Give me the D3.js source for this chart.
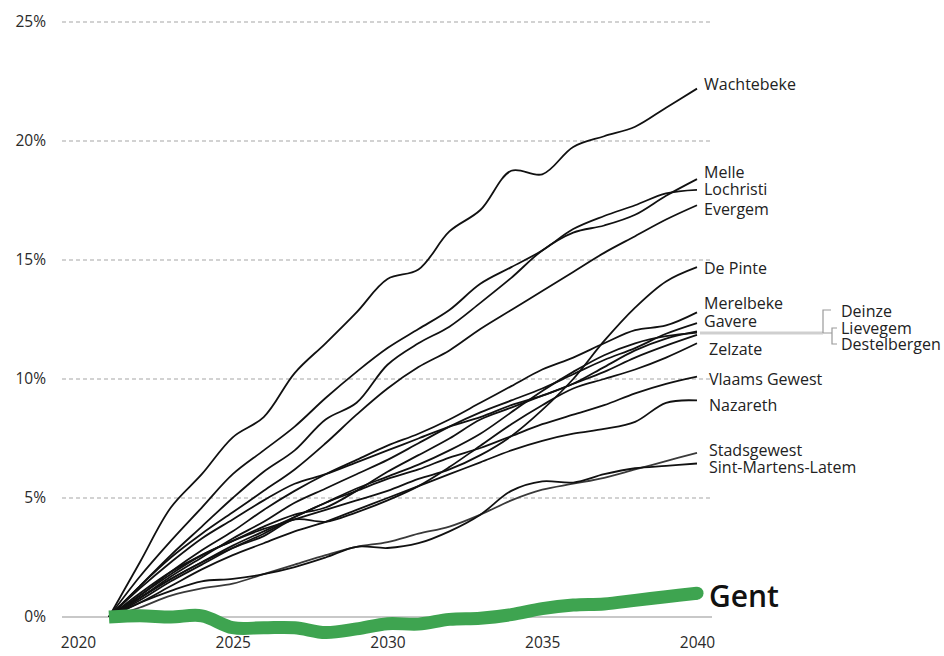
<!DOCTYPE html>
<html>
<head>
<meta charset="utf-8">
<script src="https://cdn.jsdelivr.net/npm/d3@7"></script>
<style>
  html, body { margin: 0; padding: 0; background: #fff; }
  svg { display: block; font-family: "Open Sans", "Noto Sans", sans-serif; }
</style>
</head>
<body>
<svg id="chart" width="944" height="656"></svg>
<script>
// Years of the projection (growth relative to 2021, in %)
const years = [2021, 2022, 2023, 2024, 2025, 2026, 2027, 2028, 2029, 2030,
               2031, 2032, 2033, 2034, 2035, 2036, 2037, 2038, 2039, 2040];

const xTicks = [2020, 2025, 2030, 2035, 2040];
const yTicks = [0, 5, 10, 15, 20, 25];

const wachtebeke       = [0, 2.3, 4.6, 6.0, 7.55, 8.4, 10.25, 11.5, 12.8, 14.2, 14.6, 16.2, 17.1, 18.75, 18.6, 19.75, 20.2, 20.6, 21.4, 22.2];
const melle            = [0, 1.3, 2.6, 3.8, 5.0, 6.1, 7.0, 8.3, 9.0, 10.6, 11.5, 12.2, 13.2, 14.25, 15.4, 16.15, 16.45, 16.9, 17.7, 18.4];
const lochristi        = [0, 1.7, 3.2, 4.6, 6.0, 7.0, 8.0, 9.2, 10.3, 11.3, 12.1, 12.9, 14.0, 14.7, 15.4, 16.3, 16.85, 17.3, 17.8, 17.95];
const evergem          = [0, 1.3, 2.5, 3.5, 4.4, 5.3, 6.2, 7.3, 8.5, 9.6, 10.5, 11.2, 12.1, 12.9, 13.7, 14.5, 15.3, 16.0, 16.7, 17.3];
const dePinte          = [0, 1.0, 1.9, 2.6, 3.2, 3.7, 4.1, 4.5, 4.9, 5.3, 5.8, 6.2, 6.8, 7.6, 8.7, 10.0, 11.6, 13.0, 14.1, 14.7];
const merelbeke        = [0, 0.9, 1.9, 2.8, 3.6, 4.5, 5.3, 6.0, 6.6, 7.2, 7.7, 8.3, 9.0, 9.7, 10.4, 10.9, 11.5, 12.05, 12.25, 12.8];
const gavere           = [0, 0.8, 1.7, 2.5, 3.3, 4.0, 4.8, 5.4, 6.0, 6.6, 7.3, 8.0, 8.6, 9.1, 9.6, 10.2, 10.8, 11.3, 11.9, 12.35];
const deinze           = [0, 0.9, 1.8, 2.6, 3.2, 3.8, 4.3, 4.6, 5.3, 6.1, 6.8, 7.5, 8.3, 8.8, 9.3, 9.8, 10.5, 11.2, 11.7, 12.0];
const lievegem         = [0, 0.7, 1.5, 2.2, 2.9, 3.5, 4.2, 4.8, 5.4, 5.9, 6.4, 7.0, 7.7, 8.6, 9.5, 10.3, 11.0, 11.5, 11.8, 11.95];
const destelbergen     = [0, 1.2, 2.3, 3.3, 4.1, 4.9, 5.6, 6.0, 6.5, 7.0, 7.5, 8.0, 8.4, 8.9, 9.3, 9.8, 10.3, 10.9, 11.4, 11.85];
const zelzate          = [0, 0.8, 1.6, 2.3, 2.9, 3.4, 4.1, 4.0, 4.4, 4.9, 5.5, 6.3, 7.2, 8.1, 8.9, 9.6, 10.0, 10.4, 10.9, 11.5];
const vlaamsGewest     = [0, 0.8, 1.6, 2.3, 3.0, 3.6, 4.2, 4.8, 5.3, 5.8, 6.2, 6.7, 7.1, 7.6, 8.1, 8.5, 8.9, 9.4, 9.8, 10.1];
const nazareth         = [0, 0.6, 1.3, 2.0, 2.6, 3.1, 3.6, 4.0, 4.5, 5.0, 5.5, 6.0, 6.5, 7.0, 7.4, 7.7, 7.9, 8.2, 9.0, 9.1];
const stadsgewest      = [0, 0.4, 0.9, 1.2, 1.4, 1.8, 2.2, 2.6, 2.95, 3.15, 3.5, 3.8, 4.3, 4.9, 5.35, 5.6, 5.85, 6.2, 6.55, 6.9];
const sintMartensLatem = [0, 0.6, 1.1, 1.5, 1.6, 1.8, 2.1, 2.5, 2.95, 2.9, 3.1, 3.6, 4.3, 5.3, 5.7, 5.65, 6.0, 6.25, 6.35, 6.45];
const gent             = [0, 0.05, 0.0, 0.05, -0.45, -0.45, -0.45, -0.65, -0.5, -0.28, -0.3, -0.1, -0.05, 0.1, 0.35, 0.5, 0.55, 0.7, 0.85, 1.0];

// Municipalities drawn as thin dark lines; the label sits next to the line end
const series = [
  { name: "Wachtebeke",         values: wachtebeke,       dy: -4,  dx: 7 },
  { name: "Melle",              values: melle,            dy: -7,  dx: 7 },
  { name: "Lochristi",          values: lochristi,        dy: 0,   dx: 7 },
  { name: "Evergem",            values: evergem,          dy: 4,   dx: 7 },
  { name: "De Pinte",           values: dePinte,          dy: 1,   dx: 7 },
  { name: "Merelbeke",          values: merelbeke,        dy: -9,  dx: 7 },
  { name: "Gavere",             values: gavere,           dy: -2,  dx: 7 },
  { name: "Deinze",             values: deinze,           grouped: true },
  { name: "Lievegem",           values: lievegem,         grouped: true },
  { name: "Destelbergen",       values: destelbergen,     grouped: true },
  { name: "Zelzate",            values: zelzate,          dy: 6,   dx: 12 },
  { name: "Vlaams Gewest",      values: vlaamsGewest,     dy: 3,   dx: 12 },
  { name: "Nazareth",           values: nazareth,         dy: 5,   dx: 12 },
  { name: "Stadsgewest",        values: stadsgewest,      dy: -2,  dx: 12, stroke: "#3a3a3a" },
  { name: "Sint-Martens-Latem", values: sintMartensLatem, dy: 4,   dx: 12 }
];

const svg = d3.select("#chart");

const x = d3.scaleLinear().domain([2020, 2040]).range([78, 697]);
const y = d3.scaleLinear().domain([0, 25]).range([617, 22]);

// Horizontal grid: dashed at every 5%, solid baseline at 0%
svg.append("g")
  .selectAll("line")
  .data(yTicks.filter(d => d > 0))
  .join("line")
  .attr("x1", 62).attr("x2", 710)
  .attr("y1", d => y(d)).attr("y2", d => y(d))
  .attr("stroke", "#c4c4c4")
  .attr("stroke-width", 1.4)
  .attr("stroke-dasharray", "4,3");

svg.append("line")
  .attr("x1", 62).attr("x2", 712)
  .attr("y1", y(0)).attr("y2", y(0))
  .attr("stroke", "#c8c8c8")
  .attr("stroke-width", 2);

// Y axis labels
const yAxis = svg.append("g")
  .attr("transform", "translate(46,0)")
  .call(d3.axisLeft(y).tickValues(yTicks).tickSize(0).tickPadding(0).tickFormat(d => d + "%"));
yAxis.select(".domain").remove();
yAxis.selectAll("text")
  .attr("font-family", "'Open Sans', sans-serif")
  .attr("font-size", 15.5)
  .attr("fill", "#2a2a2a");

// X axis labels
const xAxis = svg.append("g")
  .attr("transform", "translate(0,637)")
  .call(d3.axisBottom(x).tickValues(xTicks).tickSize(0).tickPadding(0).tickFormat(d3.format("d")));
xAxis.select(".domain").remove();
xAxis.selectAll("text")
  .attr("font-family", "'Open Sans', sans-serif")
  .attr("font-size", 15.5)
  .attr("fill", "#2a2a2a");

const line = d3.line()
  .x((d, i) => x(years[i]))
  .y(d => y(d))
  .curve(d3.curveCatmullRom.alpha(0.5));

// Connector from the three merged line ends to the bracketed labels
const groupEnd = d3.mean(series.filter(s => s.grouped), s => s.values[s.values.length - 1]);
const gy = y(groupEnd);
svg.append("line")
  .attr("x1", x(2040) + 3).attr("x2", 823)
  .attr("y1", gy).attr("y2", gy)
  .attr("stroke", "#cfcfcf").attr("stroke-width", 3);

const bracket = svg.append("g").attr("fill", "none").attr("stroke", "#9a9a9a").attr("stroke-width", 1.2);
bracket.append("path").attr("d", `M823,${gy} V310 H831`);
bracket.append("path").attr("d", `M823,${gy} H832 M837,328 H832 V344 H837`);

// Bracketed labels stacked as one block of lines
const groupText = svg.append("text")
  .attr("x", 841)
  .attr("y", 311)
  .attr("font-family", "'Open Sans', sans-serif")
  .attr("font-size", 16)
  .attr("fill", "#222");
series.filter(s => s.grouped).forEach((s, i) => {
  groupText.append("tspan")
    .attr("x", 841)
    .attr("dy", i === 0 ? "0.35em" : (i === 1 ? 17 : 16.5))
    .text(s.name);
});

// Municipality lines
svg.append("g")
  .attr("fill", "none")
  .selectAll("path")
  .data(series)
  .join("path")
  .attr("d", d => line(d.values))
  .attr("stroke", d => d.stroke || "#111")
  .attr("stroke-width", 1.8)
  .attr("stroke-linejoin", "round");

// End labels
svg.append("g")
  .attr("font-family", "'Open Sans', sans-serif")
  .attr("font-size", 16)
  .attr("fill", "#222")
  .selectAll("text")
  .data(series.filter(s => !s.grouped))
  .join("text")
  .attr("x", d => x(2040) + d.dx)
  .attr("y", d => y(d.values[d.values.length - 1]) + d.dy)
  .attr("dy", "0.35em")
  .text(d => d.name);

// Gent highlighted in thick green
const green = "#3ea450";
svg.append("path")
  .attr("d", line(gent))
  .attr("fill", "none")
  .attr("stroke", green)
  .attr("stroke-width", 13)
  .attr("stroke-linecap", "butt")
  .attr("stroke-linejoin", "round");
svg.append("circle")
  .attr("cx", x(2040))
  .attr("cy", y(gent[gent.length - 1]))
  .attr("r", 6.5)
  .attr("fill", green);

svg.append("text")
  .attr("x", x(2040) + 12)
  .attr("y", y(gent[gent.length - 1]) + 3)
  .attr("dy", "0.35em")
  .attr("font-family", "'Open Sans', sans-serif")
  .attr("font-size", 30)
  .attr("font-weight", 600)
  .attr("fill", "#111")
  .text("Gent");
</script>
</body>
</html>
